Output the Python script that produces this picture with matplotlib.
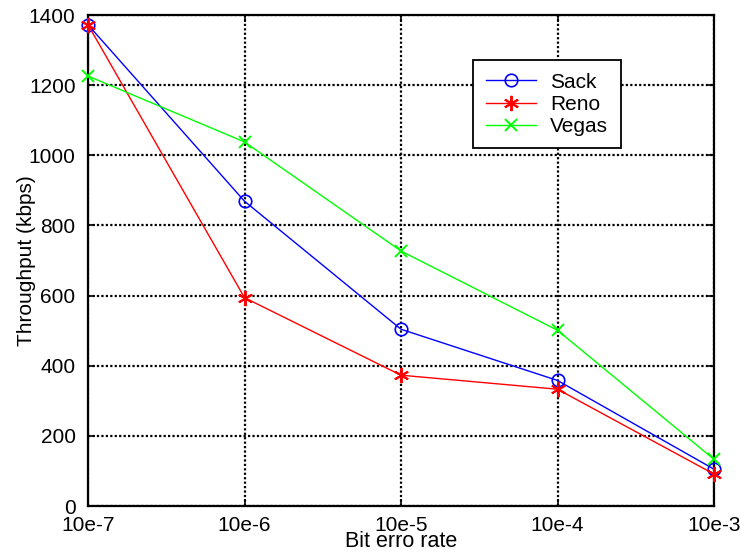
import numpy as np
import matplotlib.pyplot as plt

plt.rcParams['font.family'] = ['Liberation Sans', 'DejaVu Sans']

# bit error rates and measured throughput per TCP variant
ber_labels = ['10e-7', '10e-6', '10e-5', '10e-4', '10e-3']
sack = [1372, 869, 504, 358, 105]
reno = [1372, 594, 373, 333, 91]
vegas = [1226, 1038, 727, 501, 133]

x = np.arange(1, len(ber_labels) + 1)

fig = plt.figure(figsize=(7.41, 5.52), dpi=100)
ax = fig.add_axes([0.1188, 0.0833, 0.8448, 0.8895])

# asterisk marker like the classic '*' symbol
asterisk = (6, 2, 0)

ax.plot(x, sack, color='#0000ff', marker='o', markersize=9, markerfacecolor='none',
        markeredgewidth=1.2, linewidth=1.0, label='Sack', clip_on=False, zorder=3)
ax.plot(x, reno, color='#ff0000', marker=asterisk, markersize=11, markeredgewidth=1.4,
        linewidth=1.0, label='Reno', clip_on=False, zorder=3)
ax.plot(x, vegas, color='#00ff00', marker='x', markersize=9, markeredgewidth=1.4,
        linewidth=1.0, label='Vegas', clip_on=False, zorder=3)

ax.set_xlim(1, 5)
ax.set_ylim(0, 1400)
ax.set_xticks(x)
ax.set_xticklabels(ber_labels)
ax.set_yticks(np.arange(0, 1401, 200))

ax.grid(True, color='black', linestyle=(0, (1, 1)), linewidth=1.6)
ax.tick_params(direction='in', top=True, right=True, length=5, width=1.2,
               labelsize=15)
ax.tick_params(axis='x', pad=7)
ax.tick_params(axis='y', pad=9)
for sp in ax.spines.values():
    sp.set_linewidth(1.6)

ax.set_xlabel('Bit erro rate', fontsize=15.5, labelpad=-3)
ax.set_ylabel('Throughput (kbps)', fontsize=15, labelpad=-5)

leg = ax.legend(loc='upper left', bbox_to_anchor=(0.615, 0.908), fontsize=15,
                frameon=True, fancybox=False, edgecolor='black', framealpha=1,
                handlelength=2.4, borderpad=0.6, labelspacing=0.15,
                handletextpad=0.7, borderaxespad=0)
leg.get_frame().set_linewidth(1.3)

fig.savefig('out.png', dpi=100)
